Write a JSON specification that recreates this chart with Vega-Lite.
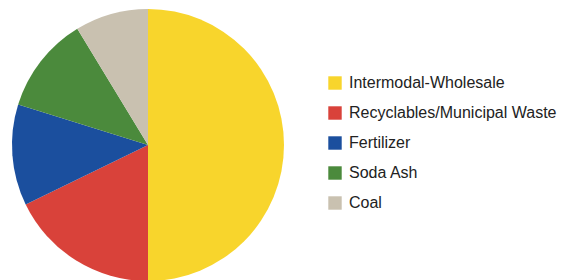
{
  "$schema": "https://vega.github.io/schema/vega-lite/v6.json",
  "width": 296,
  "height": 290,
  "padding": 0,
  "background": "white",
  "data": {"values": [
    {"category": "Intermodal-Wholesale", "share": 50.0, "ord": 1},
    {"category": "Recyclables/Municipal Waste", "share": 17.8, "ord": 2},
    {"category": "Fertilizer", "share": 12.0, "ord": 3},
    {"category": "Soda Ash", "share": 11.5, "ord": 4},
    {"category": "Coal", "share": 8.7, "ord": 5}
  ]},
  "mark": {"type": "arc", "outerRadius": 136},
  "encoding": {
    "theta": {"field": "share", "type": "quantitative", "stack": true},
    "order": {"field": "ord", "type": "quantitative"},
    "color": {
      "field": "category",
      "type": "nominal",
      "sort": ["Intermodal-Wholesale", "Recyclables/Municipal Waste", "Fertilizer", "Soda Ash", "Coal"],
      "scale": {
        "domain": ["Intermodal-Wholesale", "Recyclables/Municipal Waste", "Fertilizer", "Soda Ash", "Coal"],
        "range": ["#F8D52C", "#D9423A", "#1B4F9E", "#4B8A3C", "#C9C1B0"]
      },
      "legend": {
        "title": null,
        "orient": "none",
        "legendX": 327,
        "legendY": 75,
        "symbolType": "square",
        "symbolSize": 180,
        "symbolStrokeWidth": 0,
        "labelFont": "Liberation Sans",
        "labelFontSize": 16,
        "labelColor": "#222222",
        "labelOffset": 6,
        "rowPadding": 14,
        "labelLimit": 300
      }
    }
  },
  "config": {"view": {"stroke": null}}
}
